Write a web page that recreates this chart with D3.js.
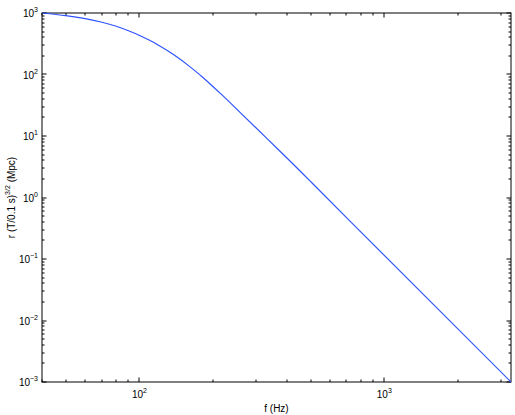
<!DOCTYPE html>
<html>
<head>
<meta charset="utf-8">
<script src="https://cdn.jsdelivr.net/npm/d3@7"></script>
<style>
  html, body { margin: 0; padding: 0; background: #fff; }
  svg { display: block; font-family: "Liberation Sans", Arial, Helvetica, sans-serif; }
</style>
</head>
<body>
<svg id="chart" width="515" height="415"></svg>
<script>
// Data
const freqHz = [40, 50, 60, 70.3, 80.4, 90.2, 100.7, 110.7, 117.8, 137.7, 161, 177, 188, 220, 258, 375, 497, 724, 3290];
const radiusMpc = [1000, 904, 811, 708, 608, 514, 427, 355, 310, 211, 133, 97.7, 79.3, 44.4, 24.0, 5.65, 1.86, 0.413, 0.001];

const xDomain = [40, 3290];
const yDomain = [1e-3, 1e3];
const xMajorTicks = [100, 1000];
const yMajorTicks = [1e-3, 1e-2, 1e-1, 1e0, 1e1, 1e2, 1e3];
const xLabelText = "f (Hz)";

const svg = d3.select("#chart");
const L = 42, R = 511, T = 13, B = 382;

const x = d3.scaleLog().domain(xDomain).range([L, R]);
const y = d3.scaleLog().domain(yDomain).range([B, T]);

function minorTicks(domain) {
  const out = [];
  const lo = Math.floor(Math.log10(domain[0])), hi = Math.ceil(Math.log10(domain[1]));
  for (let e = lo; e <= hi; e++) {
    for (let m = 2; m <= 9; m++) {
      const v = m * Math.pow(10, e);
      if (v >= domain[0] * 0.9999 && v <= domain[1] * 1.0001) out.push(v);
    }
  }
  return out;
}
const xMinor = minorTicks(xDomain);
const yMinor = minorTicks(yDomain);

const majLen = 4.5, minLen = 2.5;
const tickG = svg.append("g").attr("stroke", "#000").attr("stroke-width", 1).attr("fill", "none");

xMajorTicks.forEach(v => {
  const px = Math.round(x(v));
  tickG.append("line").attr("x1", px).attr("x2", px).attr("y1", B).attr("y2", B - majLen);
  tickG.append("line").attr("x1", px).attr("x2", px).attr("y1", T).attr("y2", T + majLen);
});
xMinor.forEach(v => {
  const px = Math.round(x(v));
  tickG.append("line").attr("x1", px).attr("x2", px).attr("y1", B).attr("y2", B - minLen);
  tickG.append("line").attr("x1", px).attr("x2", px).attr("y1", T).attr("y2", T + minLen);
});
yMajorTicks.forEach(v => {
  const py = Math.round(y(v));
  tickG.append("line").attr("y1", py).attr("y2", py).attr("x1", L).attr("x2", L + majLen);
  tickG.append("line").attr("y1", py).attr("y2", py).attr("x1", R).attr("x2", R - majLen);
});
yMinor.forEach(v => {
  const py = Math.round(y(v));
  tickG.append("line").attr("y1", py).attr("y2", py).attr("x1", L).attr("x2", L + minLen);
  tickG.append("line").attr("y1", py).attr("y2", py).attr("x1", R).attr("x2", R - minLen);
});

svg.append("rect")
  .attr("x", L).attr("y", T).attr("width", R - L).attr("height", B - T)
  .attr("fill", "none").attr("stroke", "#000").attr("stroke-width", 1);

const line = d3.line()
  .x((d, i) => x(freqHz[i]))
  .y((d, i) => y(radiusMpc[i]))
  .curve(d3.curveNatural);
svg.append("path")
  .datum(freqHz)
  .attr("d", line)
  .attr("fill", "none")
  .attr("stroke", "#2f54ff")
  .attr("stroke-width", 1.2);

function expText(v) {
  const e = Math.round(Math.log10(v));
  return e < 0 ? "\u2212" + Math.abs(e) : String(e);
}
const fs = 10;
xMajorTicks.forEach(v => {
  const t = svg.append("text")
    .attr("x", x(v)).attr("y", 398)
    .attr("text-anchor", "middle")
    .attr("font-size", fs).attr("fill", "#000");
  t.append("tspan").text("10");
  t.append("tspan").attr("font-size", 7).attr("dy", -5).text(expText(v));
});
yMajorTicks.forEach(v => {
  const t = svg.append("text")
    .attr("x", 38).attr("y", y(v) + 4)
    .attr("text-anchor", "end")
    .attr("font-size", fs).attr("fill", "#000");
  t.append("tspan").text("10");
  t.append("tspan").attr("font-size", 7).attr("dy", -5).text(expText(v));
});

svg.append("text")
  .attr("x", (L + R) / 2).attr("y", 412)
  .attr("text-anchor", "middle")
  .attr("font-size", 10).attr("fill", "#000")
  .text(xLabelText);

const yl = svg.append("text")
  .attr("transform", `translate(15, ${(T + B) / 2}) rotate(-90)`)
  .attr("text-anchor", "middle")
  .attr("font-size", 10).attr("fill", "#000");
yl.append("tspan").text("r (T/0.1 s)");
yl.append("tspan").attr("font-size", 7).attr("dy", -5).text("3/2");
yl.append("tspan").attr("dy", 5).text(" (Mpc)");
</script>
</body>
</html>
